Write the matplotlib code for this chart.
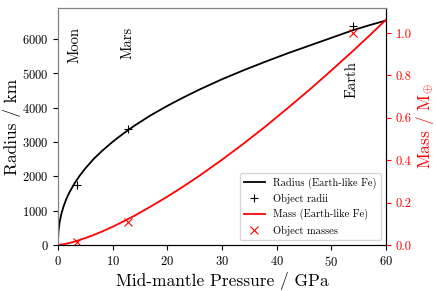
import matplotlib
matplotlib.use("Agg")
import matplotlib.pyplot as plt

plt.rcParams["font.family"] = "serif"
plt.rcParams["font.serif"] = ["cmr10", "DejaVu Serif"]
plt.rcParams["mathtext.fontset"] = "cm"
plt.rcParams["axes.formatter.use_mathtext"] = True

# model curves
p_rad = [0, 0.02, 0.1, 0.3, 0.6, 1, 1.5, 2, 3, 4, 5, 6.5, 8, 10, 12, 14, 17, 20,
         23, 26, 30, 34, 38, 42, 46, 50, 54, 57, 60]
radius = [0, 210, 415, 665, 895, 1115, 1330, 1505, 1790, 2025, 2230, 2500, 2730, 3005,
          3250, 3475, 3780, 4050, 4300, 4535, 4825, 5090, 5340, 5580, 5805, 6030, 6255,
          6400, 6535]

p_mass = [0, 1, 2, 3, 4, 5, 6.5, 8, 10, 12, 14, 17, 20, 23, 26, 30, 34, 38, 42, 46,
          50, 54, 57, 60]
mass = [0, 0.0034, 0.009, 0.016, 0.024, 0.033, 0.047, 0.063, 0.086, 0.112, 0.138,
        0.182, 0.228, 0.277, 0.329, 0.402, 0.479, 0.560, 0.645, 0.732, 0.823, 0.916,
        0.988, 1.062]

# objects
names = ["Moon", "Mars", "Earth"]
obj_p = [3.4, 12.9, 54.0]
obj_r = [1737, 3390, 6371]
obj_m = [0.0123, 0.107, 1.0]
label_p = [3.1, 12.8, 53.7]
label_r = [6350, 6350, 5350]

fig = plt.figure(figsize=(4.36, 2.91), dpi=100)
ax = fig.add_axes([0.133, 0.158, 0.752, 0.8145])
ax2 = ax.twinx()

l1, = ax.plot(p_rad, radius, color="black", lw=1.3, label="Radius (Earth-like Fe)")
l2, = ax.plot(obj_p, obj_r, "+", color="black", ms=6, mew=0.8, label="Object radii")
l3, = ax2.plot(p_mass, mass, color="red", lw=1.3, label="Mass (Earth-like Fe)")
l4, = ax2.plot(obj_p, obj_m, "x", color="red", ms=6, mew=0.8, label="Object masses")

for n, px, ry in zip(names, label_p, label_r):
    ax.text(px, ry, n, rotation=90, ha="center", va="top", fontsize=10.5)

ax.set_xlim(0, 60)
ax.set_ylim(0, 6900)
ax2.set_ylim(0, 1.118)
ax.set_xticks([0, 10, 20, 30, 40, 50, 60])
ax.set_yticks([0, 1000, 2000, 3000, 4000, 5000, 6000])
ax2.set_yticks([0, 0.2, 0.4, 0.6, 0.8, 1.0])
ax2.set_yticklabels(["0.0", "0.2", "0.4", "0.6", "0.8", "1.0"])

ax.set_xlabel("Mid-mantle Pressure / GPa", fontsize=12.5, labelpad=2)
ax.set_ylabel("Radius / km", fontsize=12.5, labelpad=0.5)
ax2.set_ylabel(r"Mass / M$_{\oplus}$", fontsize=12.5, color="red", labelpad=2)

ax.tick_params(labelsize=9, length=3.5, width=0.8)
ax2.tick_params(axis="y", labelsize=9, colors="red", length=3.5, width=0.8)

for s in ["left", "top"]:
    ax.spines[s].set_color("#808080")
    ax2.spines[s].set_color("#808080")

ax.legend(handles=[l1, l2, l3, l4], loc="lower right", fontsize=7.5, framealpha=0.8)

fig.savefig("out.png", dpi=100)
